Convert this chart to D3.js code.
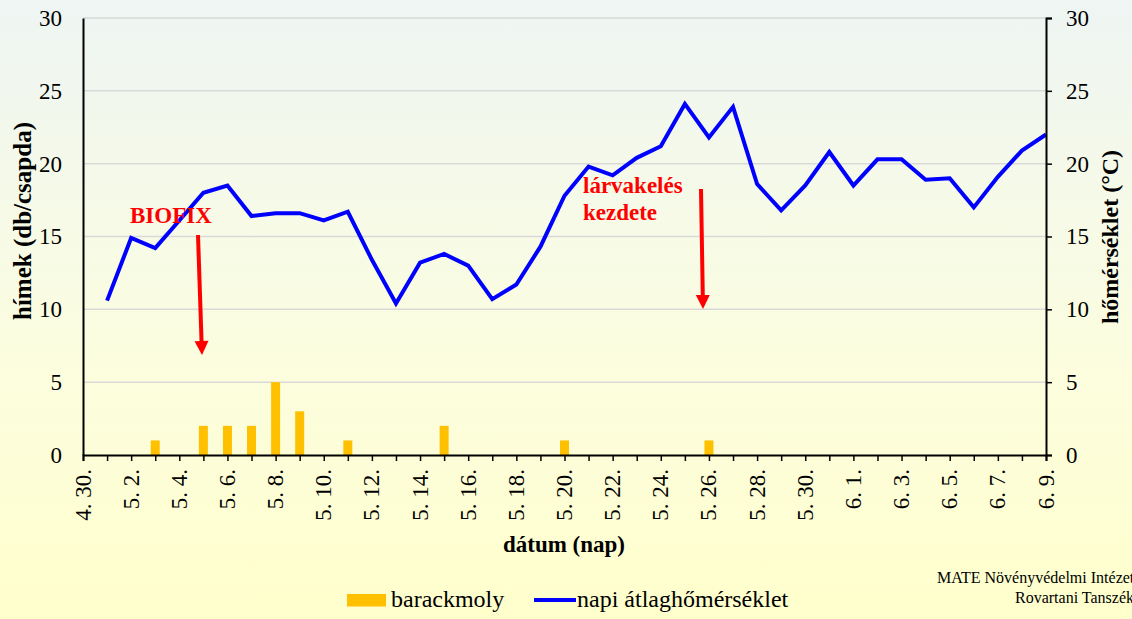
<!DOCTYPE html>
<html><head><meta charset="utf-8">
<script src="https://cdn.jsdelivr.net/npm/d3@7"></script>
<style>body{margin:0;padding:0;overflow:hidden}svg{display:block}</style>
</head><body>
<svg id="c" width="1132" height="619"></svg>
<script>
// ---- data ----
const tempDates = ["5.1","5.2","5.3","5.4","5.5","5.6","5.7","5.8","5.9","5.10","5.11","5.12","5.13","5.14","5.15","5.16","5.17","5.18","5.19","5.20","5.21","5.22","5.23","5.24","5.25","5.26","5.27","5.28","5.29","5.30","5.31","6.1","6.2","6.3","6.4","6.5","6.6","6.7","6.8","6.9"];
const tempValues = [10.6,14.9,14.2,16.1,18.0,18.5,16.4,16.6,16.6,16.1,16.7,13.4,10.4,13.2,13.8,13.0,10.7,11.7,14.3,17.8,19.8,19.2,20.4,21.2,24.1,21.8,23.9,18.6,16.8,18.5,20.8,18.5,20.3,20.3,18.9,19.0,17.0,19.1,20.9,22.0];
const mothDates = ["5.3","5.5","5.6","5.7","5.8","5.9","5.11","5.15","5.20","5.26"];
const mothValues = [1,2,2,2,5,3,1,2,1,1];
const yTicks = [0,5,10,15,20,25,30];
const startDate = "4.30", endDate = "6.9";

const parse = s => { const [m,d] = s.split(".").map(Number); return new Date(2021, m-1, d); };
const fmt = d => (d.getMonth()+1) + ". " + d.getDate() + ".";
const FF = '"Liberation Serif"';

const svg = d3.select("#c");
const W = 1132, H = 619;
const defs = svg.append("defs");
const g0 = defs.append("linearGradient").attr("id","bg").attr("x1",0).attr("y1",0).attr("x2",0).attr("y2",1);
g0.append("stop").attr("offset","0%").attr("stop-color","#eef5f3");
g0.append("stop").attr("offset","55%").attr("stop-color","#fbfde0");
g0.append("stop").attr("offset","100%").attr("stop-color","#ffffcc");
svg.append("rect").attr("width",W).attr("height",H).attr("fill","url(#bg)");

const L = 83, R = 1046, T = 18, B = 455;
const x = d3.scaleTime().domain([parse(startDate), parse(endDate)]).range([L, R]);
const yL = d3.scaleLinear().domain([0,30]).range([B, T]);
const yR = d3.scaleLinear().domain([0,30]).range([B, T]);

// gridlines
svg.append("g").selectAll("line").data(yTicks.filter(v=>v>0)).join("line")
  .attr("x1",L).attr("x2",R).attr("y1",d=>yL(d)).attr("y2",d=>yL(d))
  .attr("stroke","#d9d9d9").attr("stroke-width",1.5);

// bars
const bw = 9;
svg.append("g").selectAll("rect").data(mothDates.map((d,i)=>({d:parse(d),v:mothValues[i]}))).join("rect")
  .attr("x",d=>x(d.d)-bw/2).attr("width",bw)
  .attr("y",d=>yL(d.v)).attr("height",d=>B-yL(d.v)).attr("fill","#ffc000");

// line
const line = d3.line().x(d=>x(d.d)).y(d=>yR(d.v));
svg.append("path").datum(tempDates.map((d,i)=>({d:parse(d),v:tempValues[i]})))
  .attr("d",line).attr("fill","none").attr("stroke","#0000ff").attr("stroke-width",4).attr("stroke-linejoin","miter");

// axes
const days = d3.timeDay.range(parse(startDate), d3.timeDay.offset(parse(endDate),1));
const labelDays = days.filter((d,i)=>i%2===0);
const xAxis = d3.axisBottom(x).tickValues(days).tickSize(6).tickFormat(()=>"");
const gx = svg.append("g").attr("transform",`translate(0,${B})`).call(xAxis);
gx.select(".domain").attr("stroke","#000").attr("stroke-width",2);
gx.selectAll(".tick line").attr("stroke","#000").attr("stroke-width",1.5);
svg.append("g").selectAll("text").data(labelDays).join("text")
  .attr("transform",d=>`translate(${x(d)+7.5},${B+14}) rotate(-90)`)
  .attr("text-anchor","end").style("font-family",FF).style("font-size","23px").attr("fill","#000")
  .text(fmt);

const gl = svg.append("g").attr("transform",`translate(${L},0)`).call(d3.axisLeft(yL).tickValues(yTicks).tickSize(0).tickPadding(21));
gl.select(".domain").attr("stroke","#000").attr("stroke-width",2);
gl.selectAll("text").style("font-family",FF).style("font-size","23px").attr("fill","#000");

const gr = svg.append("g").attr("transform",`translate(${R},0)`).call(d3.axisRight(yR).tickValues(yTicks).tickSize(6).tickPadding(14));
gr.select(".domain").attr("stroke","#000").attr("stroke-width",2);
gr.selectAll(".tick line").attr("stroke","#000").attr("stroke-width",1.5);
gr.selectAll("text").style("font-family",FF).style("font-size","23px").attr("fill","#000");

function txt(xp,yp,s,size,opts={}){
  const t = svg.append("text").attr("x",xp).attr("y",yp).style("font-family",FF).style("font-size",size+"px")
    .attr("fill",opts.fill||"#000").text(s);
  if(opts.bold) t.style("font-weight","bold");
  if(opts.anchor) t.attr("text-anchor",opts.anchor);
  if(opts.rot) t.attr("transform",`rotate(${opts.rot},${xp},${yp})`);
  return t;
}
// axis titles
txt(31,221,"hímek (db/csapda)",25,{bold:true,anchor:"middle",rot:-90});
txt(1118,237,"hőmérséklet (°C)",24,{bold:true,anchor:"middle",rot:-90});
txt(564,552,"dátum (nap)",23,{bold:true,anchor:"middle"});

// annotations
function arrow(x1,y1,x2,y2){
  const ang = Math.atan2(y2-y1,x2-x1);
  svg.append("line").attr("x1",x1).attr("y1",y1).attr("x2",x2-Math.cos(ang)*10).attr("y2",y2-Math.sin(ang)*10)
    .attr("stroke","#ff0000").attr("stroke-width",4);
  const hw=7, hl=14;
  const bx=x2-Math.cos(ang)*hl, by=y2-Math.sin(ang)*hl;
  const px=-Math.sin(ang)*hw, py=Math.cos(ang)*hw;
  svg.append("path").attr("d",`M${x2},${y2} L${bx+px},${by+py} L${bx-px},${by-py} Z`).attr("fill","#ff0000");
}
txt(130,223,"BIOFIX",23,{bold:true,fill:"#ff0000"});
arrow(198,235,202,355);
txt(583,193,"lárvakelés",23,{bold:true,fill:"#ff0000"});
txt(583,220,"kezdete",23,{bold:true,fill:"#ff0000"});
arrow(701,189,703,309);

// legend
svg.append("rect").attr("x",347).attr("y",594).attr("width",39).attr("height",12.5).attr("fill","#ffc000");
txt(391,607,"barackmoly",24);
svg.append("line").attr("x1",534).attr("x2",576).attr("y1",600).attr("y2",600).attr("stroke","#0000ff").attr("stroke-width",4);
txt(577,607,"napi átlaghőmérséklet",24);

// credit
txt(937,583,"MATE Növényvédelmi Intézet",16);
txt(1015,603,"Rovartani Tanszék",16);
</script>
</body></html>
